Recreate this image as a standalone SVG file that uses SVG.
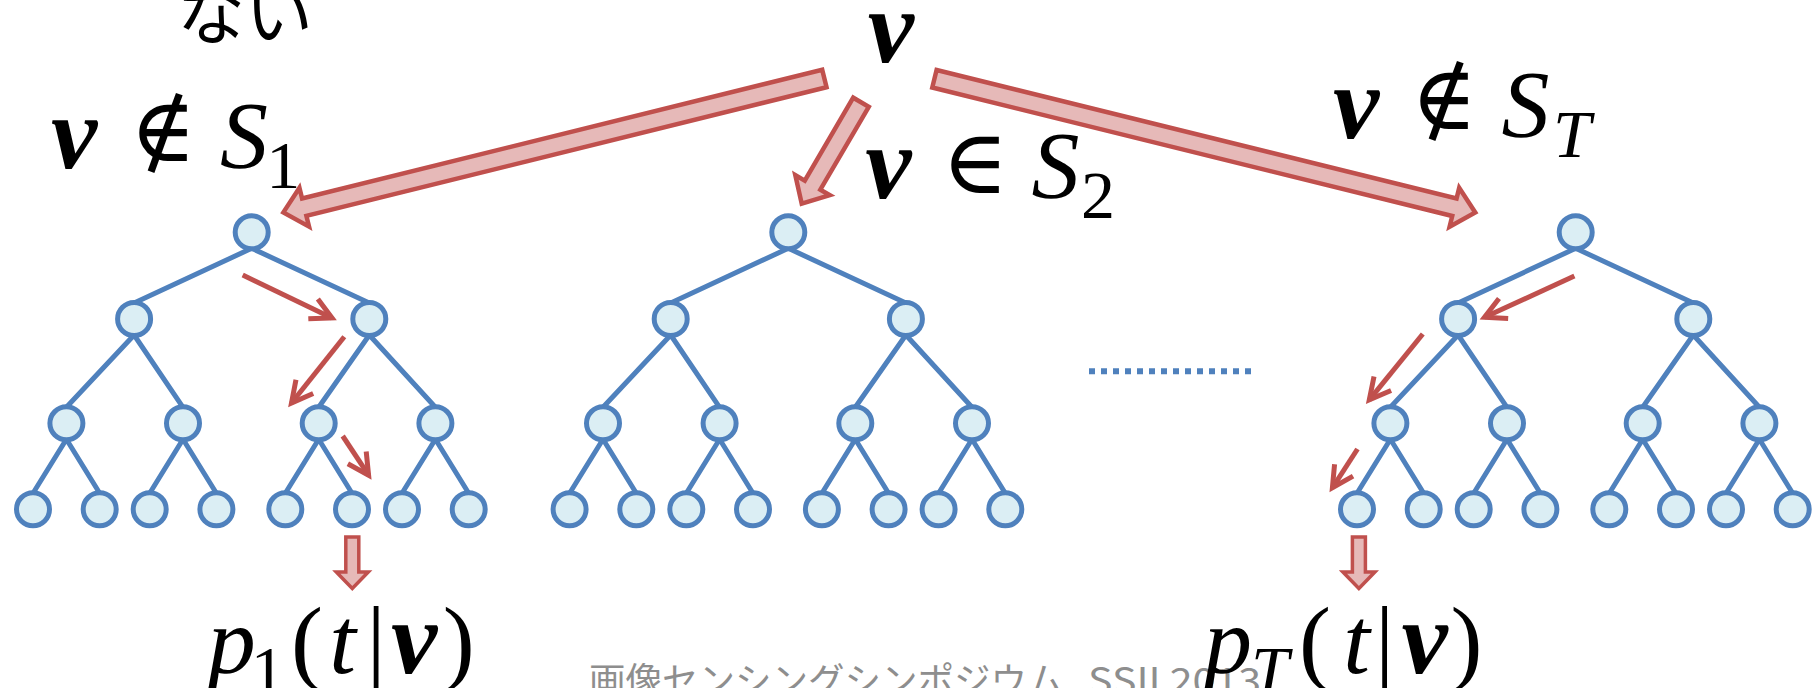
<svg xmlns="http://www.w3.org/2000/svg" width="1813" height="688" viewBox="0 0 1813 688">
  <style>
    .edge { fill: none; stroke: #4F81BD; stroke-width: 5; }
    .node circle { fill: #DBEEF4; stroke: #4F81BD; stroke-width: 5; }
    .block { fill: #E6B9B8; stroke: #C0504D; stroke-width: 4.5; stroke-linejoin: miter; }
    .down { fill: #E6B9B8; stroke: #C0504D; stroke-width: 3.5; stroke-linejoin: miter; }
    .step { fill: none; stroke: #C0504D; stroke-width: 5; marker-end: url(#open); }
    .dots { fill: none; stroke: #4F81BD; stroke-width: 6; stroke-dasharray: 6 6; }
    .m { font-family: "Liberation Serif", "DejaVu Serif", serif; font-style: italic; fill: #000; text-anchor: middle; }
    .bv { font-weight: bold; font-style: italic; font-size: 104px; }
    .it { font-size: 96px; }
    .up { font-style: normal; font-size: 96px; }
    .sub { font-style: normal; font-size: 68px; }
    .subi { font-style: italic; font-size: 68px; }
    .rel { font-family: "DejaVu Serif", serif; font-style: normal; font-weight: normal; font-size: 90px; }
    .jp { font-family: "Noto Sans CJK JP", sans-serif; fill: #000; }
    .foot { font-family: "Noto Sans CJK JP", "Noto Sans", sans-serif; fill: #8E8E8E; font-size: 36.5px; }
  </style>
  <defs>
    <!-- open V head used by the traversal steps -->
    <marker id="open" markerUnits="userSpaceOnUse" markerWidth="40" markerHeight="40" refX="0" refY="0" orient="auto" overflow="visible">
      <path d="M-21,-11 L0,0 L-21,11" fill="none" stroke="#C0504D" stroke-width="5" stroke-linejoin="miter"/>
    </marker>
  </defs>

  <rect width="1813" height="688" fill="#FFFFFF"/>

  <!-- footer -->
  <text class="foot" x="589" y="694">画像センシングシンポジウム</text>
  <text class="foot" x="1088" y="694" textLength="173" lengthAdjust="spacingAndGlyphs">SSII 2013</text>

  <!-- caption line cut at the top edge -->
  <text class="jp" x="177" y="39" font-size="68">ない</text>

  <!-- tree edges -->
  <g id="connectors">
    <path class="edge" d="M251.7,248.3 L134.1,303 M251.7,248.3 L369.3,303 M134.1,335 L66.4,407.3 M134.1,335 L183,407.3 M369.3,335 L318.7,407.3 M369.3,335 L435.4,407.3 M66.4,439.3 L33,493.3 M66.4,439.3 L99.7,493.3 M183,439.3 L149.7,493.3 M183,439.3 L216.4,493.3 M318.7,439.3 L285.3,493.3 M318.7,439.3 L352,493.3 M435.4,439.3 L402,493.3 M435.4,439.3 L468.7,493.3"/>
    <path class="edge" d="M788.3,248.3 L670.7,303 M788.3,248.3 L905.9,303 M670.7,335 L603,407.3 M670.7,335 L719.6,407.3 M905.9,335 L855.3,407.3 M905.9,335 L972,407.3 M603,439.3 L569.6,493.3 M603,439.3 L636.3,493.3 M719.6,439.3 L686.3,493.3 M719.6,439.3 L753,493.3 M855.3,439.3 L821.9,493.3 M855.3,439.3 L888.6,493.3 M972,439.3 L938.6,493.3 M972,439.3 L1005.3,493.3"/>
    <path class="edge" d="M1575.7,248.3 L1458.1,303 M1575.7,248.3 L1693.3,303 M1458.1,335 L1390.4,407.3 M1458.1,335 L1507,407.3 M1693.3,335 L1642.7,407.3 M1693.3,335 L1759.4,407.3 M1390.4,439.3 L1357,493.3 M1390.4,439.3 L1423.7,493.3 M1507,439.3 L1473.7,493.3 M1507,439.3 L1540.4,493.3 M1642.7,439.3 L1609.3,493.3 M1642.7,439.3 L1676,493.3 M1759.4,439.3 L1726,493.3 M1759.4,439.3 L1792.7,493.3"/>
    <!-- ellipsis between the second and the last tree -->
    <path class="dots" d="M1089,371.3 L1251,371.3"/>
  </g>

  <!-- tree 1 -->
  <g id="tree1" class="node">
    <g id="t1n1"><circle cx="251.7" cy="232.3" r="16.5"/></g>
    <g id="t1n2"><circle cx="134.1" cy="319" r="16.5"/></g>
    <g id="t1n3"><circle cx="369.3" cy="319" r="16.5"/></g>
    <g id="t1n4"><circle cx="66.4" cy="423.3" r="16.5"/></g>
    <g id="t1n5"><circle cx="183" cy="423.3" r="16.5"/></g>
    <g id="t1n6"><circle cx="318.7" cy="423.3" r="16.5"/></g>
    <g id="t1n7"><circle cx="435.4" cy="423.3" r="16.5"/></g>
    <g id="t1n8"><circle cx="33" cy="509.3" r="16.5"/></g>
    <g id="t1n9"><circle cx="99.7" cy="509.3" r="16.5"/></g>
    <g id="t1n10"><circle cx="149.7" cy="509.3" r="16.5"/></g>
    <g id="t1n11"><circle cx="216.4" cy="509.3" r="16.5"/></g>
    <g id="t1n12"><circle cx="285.3" cy="509.3" r="16.5"/></g>
    <g id="t1n13"><circle cx="352" cy="509.3" r="16.5"/></g>
    <g id="t1n14"><circle cx="402" cy="509.3" r="16.5"/></g>
    <g id="t1n15"><circle cx="468.7" cy="509.3" r="16.5"/></g>
  </g>

  <!-- tree 2 -->
  <g id="tree2" class="node">
    <g id="t2n1"><circle cx="788.3" cy="232.3" r="16.5"/></g>
    <g id="t2n2"><circle cx="670.7" cy="319" r="16.5"/></g>
    <g id="t2n3"><circle cx="905.9" cy="319" r="16.5"/></g>
    <g id="t2n4"><circle cx="603" cy="423.3" r="16.5"/></g>
    <g id="t2n5"><circle cx="719.6" cy="423.3" r="16.5"/></g>
    <g id="t2n6"><circle cx="855.3" cy="423.3" r="16.5"/></g>
    <g id="t2n7"><circle cx="972" cy="423.3" r="16.5"/></g>
    <g id="t2n8"><circle cx="569.6" cy="509.3" r="16.5"/></g>
    <g id="t2n9"><circle cx="636.3" cy="509.3" r="16.5"/></g>
    <g id="t2n10"><circle cx="686.3" cy="509.3" r="16.5"/></g>
    <g id="t2n11"><circle cx="753" cy="509.3" r="16.5"/></g>
    <g id="t2n12"><circle cx="821.9" cy="509.3" r="16.5"/></g>
    <g id="t2n13"><circle cx="888.6" cy="509.3" r="16.5"/></g>
    <g id="t2n14"><circle cx="938.6" cy="509.3" r="16.5"/></g>
    <g id="t2n15"><circle cx="1005.3" cy="509.3" r="16.5"/></g>
  </g>

  <!-- tree T -->
  <g id="tree3" class="node">
    <g id="t3n1"><circle cx="1575.7" cy="232.3" r="16.5"/></g>
    <g id="t3n2"><circle cx="1458.1" cy="319" r="16.5"/></g>
    <g id="t3n3"><circle cx="1693.3" cy="319" r="16.5"/></g>
    <g id="t3n4"><circle cx="1390.4" cy="423.3" r="16.5"/></g>
    <g id="t3n5"><circle cx="1507" cy="423.3" r="16.5"/></g>
    <g id="t3n6"><circle cx="1642.7" cy="423.3" r="16.5"/></g>
    <g id="t3n7"><circle cx="1759.4" cy="423.3" r="16.5"/></g>
    <g id="t3n8"><circle cx="1357" cy="509.3" r="16.5"/></g>
    <g id="t3n9"><circle cx="1423.7" cy="509.3" r="16.5"/></g>
    <g id="t3n10"><circle cx="1473.7" cy="509.3" r="16.5"/></g>
    <g id="t3n11"><circle cx="1540.4" cy="509.3" r="16.5"/></g>
    <g id="t3n12"><circle cx="1609.3" cy="509.3" r="16.5"/></g>
    <g id="t3n13"><circle cx="1676" cy="509.3" r="16.5"/></g>
    <g id="t3n14"><circle cx="1726" cy="509.3" r="16.5"/></g>
    <g id="t3n15"><circle cx="1792.7" cy="509.3" r="16.5"/></g>
  </g>

  <!-- red arrows: v dispatched to each tree, path through the tree, output -->
  <g id="flow">
    <polygon class="block" transform="translate(826.3,78) rotate(166.1)" points="2,-9 537.8,-9 537.8,-20 559.3,0 537.8,20 537.8,9 2,9"/>
    <polygon class="block" transform="translate(862,100.5) rotate(120.3)" points="2,-9 98,-9 98,-20 119.5,0 98,20 98,9 2,9"/>
    <polygon class="block" transform="translate(932.5,78.3) rotate(13.88)" points="2,-9 537.6,-9 537.6,-20 559.1,0 537.6,20 537.6,9 2,9"/>

    <path class="step" d="M242.7,275 L332,318"/>
    <path class="step" d="M344.3,336.7 L291.5,403"/>
    <path class="step" d="M342.7,436 L368.6,475.2"/>

    <path class="step" d="M1574.4,276 L1484.5,317.3"/>
    <path class="step" d="M1422.8,334 L1369.3,399.8"/>
    <path class="step" d="M1357.5,449 L1332.4,487.8"/>

    <polygon class="down" points="345.8,537 358.8,537 358.8,572 368.3,572 352.3,588.5 336.3,572 345.8,572"/>
    <polygon class="down" points="1352.4,537 1365.4,537 1365.4,572 1374.9,572 1358.9,588.5 1342.9,572 1352.4,572"/>
  </g>

  <!-- formulas -->
  <g id="labels">
    <text class="m"><tspan class="bv" x="890.8" y="61.7">v</tspan></text>

    <text class="m"><tspan class="bv" x="74.2" y="168.3">v</tspan><tspan class="rel" x="163" y="160.5">∉</tspan><tspan class="it" x="244" y="168.3">S</tspan><tspan class="sub" x="283.3" y="188.3">1</tspan></text>

    <text class="m"><tspan class="bv" x="888.3" y="198.3">v</tspan><tspan class="rel" x="975" y="192.8">∈</tspan><tspan class="it" x="1055.5" y="198.3">S</tspan><tspan class="sub" x="1098" y="218">2</tspan></text>

    <text class="m"><tspan class="bv" x="1356" y="138">v</tspan><tspan class="rel" x="1444" y="128.5">∉</tspan><tspan class="it" x="1525.5" y="137">S</tspan><tspan class="subi" x="1572" y="157">T</tspan></text>

    <text class="m"><tspan class="it" x="231.7" y="673">p</tspan><tspan class="sub" x="267.8" y="693">1</tspan><tspan class="up" x="306.9" y="673">(</tspan><tspan class="it" x="342.5" y="673">t</tspan><tspan class="up" x="376.1" y="673">|</tspan><tspan class="bv" x="414" y="673">v</tspan><tspan class="up" x="458.7" y="673">)</tspan></text>

    <text class="m"><tspan class="it" x="1228" y="673">p</tspan><tspan class="subi" x="1270" y="693">T</tspan><tspan class="up" x="1315" y="673">(</tspan><tspan class="it" x="1356.5" y="673">t</tspan><tspan class="up" x="1384.5" y="673">|</tspan><tspan class="bv" x="1424.5" y="673">v</tspan><tspan class="up" x="1466.5" y="673">)</tspan></text>
  </g>
</svg>
